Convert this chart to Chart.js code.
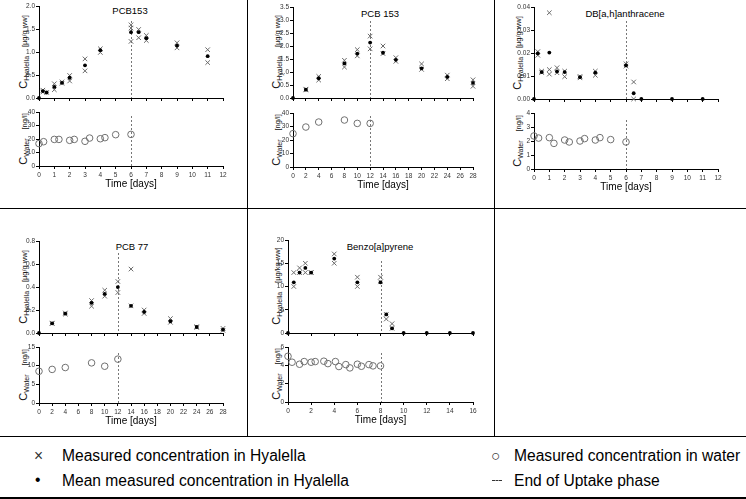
<!DOCTYPE html>
<html><head><meta charset="utf-8">
<script src="https://cdn.jsdelivr.net/npm/chart.js@4.4.0/dist/chart.umd.min.js"></script>
<style>
body{margin:0;background:#fff;width:746px;height:499px;position:relative;overflow:hidden;font-family:"Liberation Sans",Arial,sans-serif;color:#000}
canvas{position:absolute}
.t{position:absolute;white-space:nowrap;transform:translate(-50%,-50%);font-size:9.5px;line-height:1}
.yl{position:absolute;white-space:nowrap;transform:translate(-50%,-50%) rotate(-90deg);line-height:1;color:#111}
.yl .c{font-size:11px}.yl sub{font-size:7px;vertical-align:-2px}.yl .u{font-size:7.5px}
.hl{position:absolute;left:0;width:746px;height:1px;background:#000}
.vl{position:absolute;width:1px;background:#000;top:0;height:436px}
.lg{position:absolute;white-space:nowrap;font-size:15.6px;line-height:1;transform:translateY(-50%)}
</style></head><body>
<div class="hl" style="top:208px"></div>
<div class="hl" style="top:436px"></div>
<div class="hl" style="top:497px;height:1.5px"></div>
<div class="vl" style="left:247px"></div>
<div class="vl" style="left:494px"></div>

<div class="t" style="left:130px;top:11px">PCB153</div>
<div class="t" style="left:380px;top:14px">PCB 153</div>
<div class="t" style="left:625px;top:14px">DB[a,h]anthracene</div>
<div class="t" style="left:132px;top:247px">PCB 77</div>
<div class="t" style="left:380px;top:247px">Benzo[a]pyrene</div>

<div class="yl" style="left:22px;top:52px"><span class="c">C</span><sub>Hyalella</sub>&nbsp;&nbsp;<span class="u">[µg/g ww]</span></div>
<div class="yl" style="left:22px;top:139px"><span class="c">C</span><sub>Water</sub>&nbsp;&nbsp;<span class="u">[ng/l]</span></div>
<div class="yl" style="left:275px;top:52px"><span class="c">C</span><sub>Hyalella</sub>&nbsp;&nbsp;<span class="u">[µg/g ww]</span></div>
<div class="yl" style="left:275px;top:140px"><span class="c">C</span><sub>Water</sub>&nbsp;&nbsp;<span class="u">[ng/l]</span></div>
<div class="yl" style="left:516px;top:53px"><span class="c">C</span><sub>Hyalella</sub>&nbsp;&nbsp;<span class="u">[µg/g ww]</span></div>
<div class="yl" style="left:516px;top:141px"><span class="c">C</span><sub>Water</sub>&nbsp;&nbsp;<span class="u">[ng/l]</span></div>
<div class="yl" style="left:22px;top:287px"><span class="c">C</span><sub>Hyalella</sub>&nbsp;&nbsp;<span class="u">[µg/g ww]</span></div>
<div class="yl" style="left:22px;top:375px"><span class="c">C</span><sub>Water</sub>&nbsp;&nbsp;<span class="u">[ng/l]</span></div>
<div class="yl" style="left:275px;top:286px"><span class="c">C</span><sub>Hyalella</sub>&nbsp;&nbsp;<span class="u">[µg/kg ww]</span></div>
<div class="yl" style="left:275px;top:374px"><span class="c">C</span><sub>Water</sub>&nbsp;&nbsp;<span class="u">[ng/l]</span></div>

<div class="lg" style="left:34px;top:456px;color:#333">×</div>
<div class="lg" style="left:62px;top:456px">Measured concentration in Hyalella</div>
<div class="lg" style="left:35px;top:480px">•</div>
<div class="lg" style="left:62px;top:481px">Mean measured concentration in Hyalella</div>
<div class="lg" style="left:491px;top:456px;color:#333">○</div>
<div class="lg" style="left:514px;top:456px">Measured concentration in water</div>
<div style="position:absolute;left:492px;top:480px;width:10px;border-top:1px dashed #333"></div>
<div class="lg" style="left:514px;top:481px">End of Uptake phase</div>

<script>
// ---------- Panel 1: PCB153 (12 days) ----------
const pcb153aMarkDays = [0.25,0.25,0.5,1,1,1.5,1.5,2,2,3,3,4,4,6,6,6,6.5,6.5,7,7,9,9,11,11];
const pcb153aMarkVals = [0.17,0.13,0.12,0.31,0.18,0.35,0.32,0.49,0.37,0.85,0.59,1.07,0.99,1.59,1.52,1.23,1.49,1.31,1.36,1.25,1.20,1.09,1.05,0.77];
const pcb153aMeanDays = [0,0.25,0.5,1,1.5,2,3,4,6,6.5,7,9,11];
const pcb153aMeanVals = [0,0.15,0.12,0.24,0.33,0.44,0.71,1.04,1.43,1.43,1.30,1.14,0.91];
const pcb153aWaterDays = [0,0.3,1,1.3,2,2.3,3,3.3,4,4.3,5,6];
const pcb153aWaterVals = [16.6,18.0,19.7,19.7,19.0,19.7,18.3,20.7,20.2,21.0,23.2,23.4];

// ---------- Panel 2: PCB 153 (28 days) ----------
const pcb153bMarkDays = [2,2,4,4,8,8,10,10,12,12,14,14,16,16,20,20,24,24,28,28];
const pcb153bMarkVals = [0.34,0.31,0.83,0.69,1.45,1.19,1.86,1.62,2.38,1.89,2.00,1.71,1.55,1.41,1.31,1.10,0.88,0.74,0.70,0.45];
const pcb153bMeanDays = [0,2,4,8,10,12,14,16,20,24,28];
const pcb153bMeanVals = [0,0.32,0.76,1.33,1.71,2.13,1.74,1.47,1.14,0.81,0.58];
const pcb153bWaterDays = [0,2,4,8,10,12];
const pcb153bWaterVals = [24.7,29.6,33.3,34.8,32.3,32.3];

// ---------- Panel 3: DB[a,h]anthracene ----------
const dbahaMarkDays = [0.25,0.25,0.5,0.5,1,1,1,1.5,1.5,2,2,3,3,4,4,6,6,6.5,6.5];
const dbahaMarkVals = [0.0206,0.0190,0.0121,0.0115,0.0375,0.0128,0.0108,0.0136,0.0114,0.0121,0.0097,0.0098,0.0092,0.0121,0.0103,0.0153,0.0143,0.0074,0.0];
const dbahaMeanDays = [0,0.25,0.5,1,1.5,2,3,4,6,6.5,7,9,11];
const dbahaMeanVals = [0,0.0198,0.0117,0.0202,0.0120,0.0117,0.0095,0.0115,0.0146,0.0025,0,0,0];
const dbahaWaterDays = [0,0.3,1,1.3,2,2.3,3,3.3,4,4.3,5,6];
const dbahaWaterVals = [2.36,2.21,2.24,1.83,2.07,1.93,2.00,2.17,2.07,2.24,2.10,1.93];

// ---------- Panel 4: PCB 77 ----------
const pcb77MarkDays = [2,2,4,4,8,8,10,10,12,12,14,14,16,16,20,20,24,24,28,28];
const pcb77MarkVals = [0.086,0.082,0.174,0.164,0.282,0.233,0.372,0.320,0.448,0.352,0.556,0.236,0.200,0.170,0.125,0.093,0.055,0.048,0.040,0.023];
const pcb77MeanDays = [0,2,4,8,10,12,14,16,20,24,28];
const pcb77MeanVals = [0,0.084,0.169,0.262,0.340,0.399,0.236,0.183,0.102,0.052,0.029];
const pcb77WaterDays = [0,2,4,8,10,12];
const pcb77WaterVals = [8.5,9.0,9.5,10.75,9.85,11.75];

// ---------- Panel 5: Benzo[a]pyrene ----------
const bapMarkDays = [0.5,0.5,1,1,1.5,1.5,2,2,4,4,6,6,8,8,8.5,8.5,9,9];
const bapMarkVals = [13,10,14,13,15,13,13,13,17,15,12,10,12,11,4,3,2,1];
const bapMeanDays = [0,0.5,1,1.5,2,4,6,8,8.5,9,10,12,14,16];
const bapMeanVals = [0,10.9,13.0,14.0,13.0,16.0,10.9,10.9,4.0,1.0,0,0,0,0];
const bapWaterDays = [0,0.35,1,1.4,2,2.35,3.1,3.45,4.1,4.4,5,5.35,6,6.35,7,7.35,8];
const bapWaterVals = [4.99,4.34,4.12,4.41,4.34,4.41,4.45,4.19,4.41,3.87,4.08,3.72,4.12,3.90,4.08,3.94,3.94];

// end of uptake phase (days)
const uptakeEndDays = [6, 12, 6, 12, 8];

const FF = '"Liberation Sans", Arial, sans-serif';
const pts = (xs, ys) => xs.map((x, i) => ({x: x, y: ys[i]}));

const uptakePlugin = {
  id: 'uptakeLine',
  beforeDatasetsDraw(chart, args, opts) {
    if (opts.day == null) return;
    const ctx = chart.ctx, xs = chart.scales.x, a = chart.chartArea;
    const px = Math.round(xs.getPixelForValue(opts.day)) + 0.5;
    ctx.save();
    ctx.strokeStyle = '#777'; ctx.lineWidth = 1; ctx.setLineDash([2, 2]);
    ctx.beginPath(); ctx.moveTo(px, a.top + opts.topOffset); ctx.lineTo(px, a.bottom); ctx.stroke();
    ctx.restore();
  }
};

function meanSet(d, v) { return {data: pts(d, v), pointStyle: 'circle', pointRadius: 1.9, backgroundColor: '#000', borderColor: '#000', borderWidth: 0, clip: false}; }
function markSet(d, v) { return {data: pts(d, v), pointStyle: 'crossRot', pointRadius: 3.2, backgroundColor: 'transparent', borderColor: '#6a6a6a', borderWidth: 1, clip: false}; }
function waterSet(d, v) { return {data: pts(d, v), pointStyle: 'circle', pointRadius: 3.3, backgroundColor: 'transparent', borderColor: '#707070', borderWidth: 1, clip: false}; }

function buildChart(c) {
  const yW = 26, padT = 6, padR = 10;
  const xH = c.xTitle ? 24 : 6;
  const W = (c.right - c.left) + yW + padR;
  const H = (c.bottom - c.top) + padT + xH;
  const cv = document.createElement('canvas');
  cv.width = W; cv.height = H;
  cv.style.left = (c.left - yW) + 'px';
  cv.style.top = (c.top - padT) + 'px';
  cv.style.width = W + 'px'; cv.style.height = H + 'px';
  document.body.appendChild(cv);
  new Chart(cv, {
    type: 'scatter',
    data: {datasets: c.datasets},
    options: {
      responsive: false, animation: false, devicePixelRatio: 1,
      layout: {padding: {top: padT, right: padR, left: 0, bottom: 0}},
      plugins: {legend: {display: false}, tooltip: {enabled: false},
        uptakeLine: {day: c.vday, topOffset: c.vTop}},
      scales: {
        x: {type: 'linear', min: c.xmin, max: c.xmax,
          ticks: {stepSize: c.xstep, autoSkip: false, maxRotation: 0, minRotation: 0, padding: 2, color: '#333',
            font: {size: 6.5, family: FF}, callback: c.xTitle ? (v => v) : (() => '')},
          grid: {display: true, drawOnChartArea: false, drawTicks: true, tickLength: 3, color: '#000', lineWidth: 1},
          border: {display: true, color: '#000', width: 1},
          title: {display: !!c.xTitle, text: 'Time [days]', color: '#000', font: {size: 10, family: FF}, padding: 0},
          afterFit: s => { s.height = xH; }},
        y: {type: 'linear', min: c.ymin, max: c.ymax,
          ticks: {stepSize: c.ystep, autoSkip: false, padding: 1, color: '#333',
            font: {size: 6.5, family: FF}, callback: v => Number(v).toFixed(c.ydec)},
          grid: {display: true, drawOnChartArea: false, drawTicks: true, tickLength: 3, color: '#000', lineWidth: 1},
          border: {display: true, color: '#000', width: 1},
          afterFit: s => { s.width = yW; }}
      }
    },
    plugins: [uptakePlugin]
  });
}

// Panel 1
buildChart({left: 39, right: 223, top: 6, bottom: 98, xmin: 0, xmax: 12, xstep: 1, ymin: 0, ymax: 2, ystep: 0.5, ydec: 1,
  vday: uptakeEndDays[0], vTop: 15,
  datasets: [meanSet(pcb153aMeanDays, pcb153aMeanVals), markSet(pcb153aMarkDays, pcb153aMarkVals)]});
buildChart({left: 39, right: 223, top: 112, bottom: 166, xmin: 0, xmax: 12, xstep: 1, ymin: 0, ymax: 40, ystep: 10, ydec: 0,
  vday: uptakeEndDays[0], vTop: 4, xTitle: true,
  datasets: [waterSet(pcb153aWaterDays, pcb153aWaterVals)]});
// Panel 2
buildChart({left: 293, right: 473, top: 7, bottom: 98, xmin: 0, xmax: 28, xstep: 2, ymin: 0, ymax: 3.5, ystep: 0.5, ydec: 1,
  vday: uptakeEndDays[1], vTop: 14,
  datasets: [meanSet(pcb153bMeanDays, pcb153bMeanVals), markSet(pcb153bMarkDays, pcb153bMarkVals)]});
buildChart({left: 293, right: 473, top: 113, bottom: 167, xmin: 0, xmax: 28, xstep: 2, ymin: 0, ymax: 40, ystep: 10, ydec: 0,
  vday: uptakeEndDays[1], vTop: 3, xTitle: true,
  datasets: [waterSet(pcb153bWaterDays, pcb153bWaterVals)]});
// Panel 3
buildChart({left: 534, right: 718, top: 7, bottom: 99, xmin: 0, xmax: 12, xstep: 1, ymin: 0, ymax: 0.04, ystep: 0.01, ydec: 2,
  vday: uptakeEndDays[2], vTop: 14,
  datasets: [meanSet(dbahaMeanDays, dbahaMeanVals), markSet(dbahaMarkDays, dbahaMarkVals)]});
buildChart({left: 534, right: 718, top: 113, bottom: 169, xmin: 0, xmax: 12, xstep: 1, ymin: 0, ymax: 4, ystep: 1, ydec: 0,
  vday: uptakeEndDays[2], vTop: 7, xTitle: true,
  datasets: [waterSet(dbahaWaterDays, dbahaWaterVals)]});
// Panel 4
buildChart({left: 39, right: 223, top: 241, bottom: 333, xmin: 0, xmax: 28, xstep: 2, ymin: 0, ymax: 0.8, ystep: 0.2, ydec: 1,
  vday: uptakeEndDays[3], vTop: 12,
  datasets: [meanSet(pcb77MeanDays, pcb77MeanVals), markSet(pcb77MarkDays, pcb77MarkVals)]});
buildChart({left: 39, right: 223, top: 347, bottom: 403, xmin: 0, xmax: 28, xstep: 2, ymin: 0, ymax: 15, ystep: 5, ydec: 0,
  vday: uptakeEndDays[3], vTop: 6, xTitle: true,
  datasets: [waterSet(pcb77WaterDays, pcb77WaterVals)]});
// Panel 5
buildChart({left: 288, right: 473, top: 240, bottom: 333, xmin: 0, xmax: 16, xstep: 2, ymin: 0, ymax: 20, ystep: 5, ydec: 0,
  vday: uptakeEndDays[4], vTop: 21,
  datasets: [meanSet(bapMeanDays, bapMeanVals), markSet(bapMarkDays, bapMarkVals)]});
buildChart({left: 288, right: 473, top: 347, bottom: 402, xmin: 0, xmax: 16, xstep: 2, ymin: 0, ymax: 6, ystep: 2, ydec: 0,
  vday: uptakeEndDays[4], vTop: 6, xTitle: true,
  datasets: [waterSet(bapWaterDays, bapWaterVals)]});
</script>
</body></html>
